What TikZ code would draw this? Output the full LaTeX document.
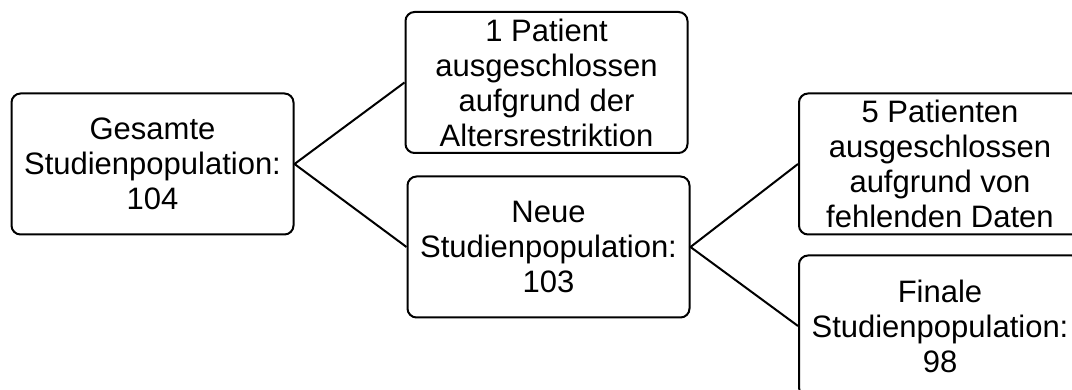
\documentclass[tikz,border=0pt]{standalone}
\usepackage{fontspec}
\setmainfont{Liberation Sans}
\begin{document}
\begin{tikzpicture}[x=1pt,y=-1pt,
  box/.style={draw=black, line width=2pt, rounded corners=9pt, inner sep=0pt,
    minimum width=282pt, minimum height=141pt, align=center,
    font=\fontsize{31}{35}\selectfont},
  link/.style={draw=black, line width=2pt}]
\useasboundingbox (0,0) rectangle (1072,390);
\clip (0,0) rectangle (1072,390);
\node[box] (a) at (152.5,164) {Gesamte\\Studienpopulation:\\104};
\node[box] (b) at (546.5,82.5) {1 Patient\\ausgeschlossen\\aufgrund der\\Altersrestriktion};
\node[box] (c) at (548.5,247) {Neue\\Studienpopulation:\\103};
\node[box] (d) at (940,164) {5 Patienten\\ausgeschlossen\\aufgrund von\\fehlenden Daten};
\node[box] (e) at (940,326) {Finale\\Studienpopulation:\\98};
\draw[link] (b.west) -- (a.east) -- (c.west);
\draw[link] (d.west) -- (c.east) -- (e.west);
\end{tikzpicture}
\end{document}
